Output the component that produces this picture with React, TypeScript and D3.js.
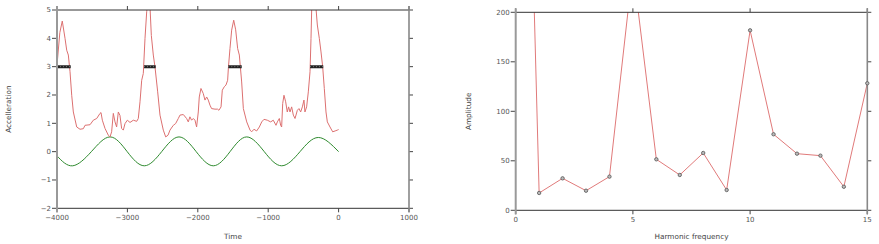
import React from "react";
import * as d3 from "d3";

// ---- Left chart data (Time vs Accelleration) ----
const accelTime = [
  -4000, -3960, -3925, -3886, -3862, -3839, -3815, -3791, -3768, -3720, -3673, -3626, -3602, -3531, -3484, -3436,
  -3389, -3375, -3356, -3318, -3271, -3247, -3224, -3200, -3176, -3153, -3129, -3106, -3082, -3058, -3034, -3001,
  -2963, -2916, -2868, -2845, -2821, -2797, -2774, -2750, -2726, -2690, -2660, -2632, -2608, -2570, -2537, -2490,
  -2456, -2423, -2395, -2348, -2315, -2277, -2253, -2206, -2159, -2135, -2112, -2088, -2064, -2040, -2017, -1993,
  -1979, -1955, -1922, -1898, -1874, -1851, -1827, -1804, -1756, -1719, -1700, -1670, -1652, -1624, -1600, -1576,
  -1566, -1543, -1519, -1490, -1462, -1434, -1410, -1377, -1353, -1305, -1258, -1235, -1202, -1164, -1126, -1092,
  -1060, -1013, -965, -928, -889, -870, -842, -823, -809, -794, -776, -752, -729, -710, -690, -667,
  -643, -619, -586, -563, -539, -515, -492, -478, -454, -430, -406, -392, -382, -350, -321, -302,
  -274, -250, -226, -203, -179, -160, -122, -84, -50, -18, 0,
];
const accelValue = [
  3.05, 4.2, 4.61, 4.0, 3.58, 3.41, 2.82, 1.99, 1.4, 0.87, 0.79, 0.81, 0.93, 0.95, 1.11, 1.17,
  1.35, 1.38, 1.11, 0.82, 0.58, 0.52, 0.7, 1.35, 1.05, 0.87, 1.4, 1.28, 0.82, 0.76, 0.99, 1.11,
  1.03, 1.11, 1.07, 1.17, 1.76, 2.52, 2.76, 4.0, 4.94, 5.7, 4.1, 3.41, 2.99, 2.11, 1.29, 0.76,
  0.52, 0.58, 0.76, 0.93, 0.99, 1.17, 1.29, 1.31, 1.17, 1.05, 1.23, 1.11, 1.17, 1.11, 0.87, 1.4,
  1.93, 2.23, 2.05, 1.82, 1.93, 1.82, 1.64, 1.52, 1.5, 1.5, 1.46, 1.58, 2.17, 2.29, 2.35, 2.52,
  2.94, 3.64, 4.29, 4.64, 4.3, 3.64, 3.41, 2.46, 1.52, 1.05, 0.76, 0.7, 0.79, 0.73, 0.87, 1.05,
  1.14, 1.11, 1.05, 1.11, 0.93, 1.05, 1.17, 0.93, 0.87, 1.7, 1.99, 1.76, 1.4, 1.58, 1.4, 1.58,
  1.29, 1.17, 1.46, 1.52, 1.4, 1.58, 1.82, 1.4, 1.58, 2.11, 2.82, 4.0, 5.06, 5.9, 5.06, 4.47,
  4.0, 3.52, 2.99, 2.23, 1.4, 1.05, 0.87, 0.7, 0.73, 0.76, 0.78,
];

const sineTime = [
  -4000, -3777, -3512, -3247, -3003, -2760, -2513, -2267, -2023, -1780, -1542, -1305, -1056, -808, -548, -288, 0,
];
const sineValue = [
  -0.15, -0.5, 0, 0.52, 0, -0.5, 0, 0.52, 0, -0.5, 0, 0.52, 0, -0.5, 0, 0.5, 0,
];

const spanStart = [-4000, -2764, -1567, -406];
const spanEnd = [-3805, -2598, -1376, -218];
const spanLevel = 3;

const leftXTicks = [-4000, -3000, -2000, -1000, 0, 1000];
const leftYTicks = [-2, -1, 0, 1, 2, 3, 4, 5];

// ---- Right chart data (Harmonic frequency vs Amplitude) ----
const harmonic = [0, 1, 2, 3, 4, 5, 6, 7, 8, 9, 10, 11, 12, 13, 14, 15];
const amplitude = [905, 17.5, 32.3, 19.8, 34, 245, 51.5, 35.7, 57.9, 20.5, 181.8, 76.8, 57.2, 55.2, 23.8, 128.3];
const rightXTicks = [0, 5, 10, 15];
const rightYTicks = [0, 50, 100, 150, 200];

const FONT = "'DejaVu Sans', Verdana, sans-serif";
const TICK_COLOR = "#555";
const fmt = (v: number) => (v < 0 ? "\u2212" : "") + Math.abs(v);

type FrameProps = {
  x: d3.ScaleLinear<number, number>;
  y: d3.ScaleLinear<number, number>;
  xTicks: number[];
  yTicks: number[];
  xTitle: string;
  yTitle: string;
  yTitleX: number;
};

function Frame({ x, y, xTicks, yTicks, xTitle, yTitle, yTitleX }: FrameProps) {
  const [x0, x1] = x.range();
  const [y0, y1] = y.range(); // y0 bottom, y1 top
  return (
    <g fontFamily={FONT}>
      <line x1={x0} x2={x1} y1={y1} y2={y1} stroke="#333" strokeWidth={1} />
      <line x1={x0} x2={x1} y1={y0} y2={y0} stroke="#333" strokeWidth={1} />
      {xTicks.map((t) => (
        <g key={"xt" + t}>
          <line x1={x(t)} x2={x(t)} y1={y1 - 4} y2={y1} stroke="#444" />
          <line x1={x(t)} x2={x(t)} y1={y0} y2={y0 + 4} stroke="#444" />
          <text x={x(t)} y={y0 + 12} fontSize={7} fill={TICK_COLOR} textAnchor="middle">
            {fmt(t)}
          </text>
        </g>
      ))}
      {yTicks.map((t) => (
        <g key={"yt" + t}>
          <line x1={x0 - 5} x2={x0} y1={y(t)} y2={y(t)} stroke="#444" />
          <line x1={x1} x2={x1 + 4} y1={y(t)} y2={y(t)} stroke="#444" />
          <text x={x0 - 6} y={y(t)} dy="0.35em" fontSize={7} fill={TICK_COLOR} textAnchor="end">
            {fmt(t)}
          </text>
        </g>
      ))}
      <line x1={x0} x2={x0} y1={y1 - 4} y2={y0 + 4} stroke="#999" strokeWidth={2} />
      <line x1={x1} x2={x1} y1={y1 - 4} y2={y0 + 4} stroke="#888" strokeWidth={1.6} />
      <text x={(x0 + x1) / 2} y={238.5} fontSize={7.3} fill="#444" textAnchor="middle">
        {xTitle}
      </text>
      <text
        transform={`translate(${yTitleX},${(y0 + y1) / 2}) rotate(-90)`}
        fontSize={7.3}
        fill="#444"
        textAnchor="middle"
        dy="0.35em"
      >
        {yTitle}
      </text>
    </g>
  );
}

export default function App() {
  const lx = d3.scaleLinear().domain([-4000, 1000]).range([57, 409]);
  const ly = d3.scaleLinear().domain([-2, 5]).range([208.3, 10]);
  const rx = d3.scaleLinear().domain([0, 15]).range([515.7, 867.3]);
  const ry = d3.scaleLinear().domain([0, 200]).range([210.3, 12.3]);

  const accel = accelTime.map((t, i) => [t, accelValue[i]] as [number, number]);
  const sine = sineTime.map((t, i) => [t, sineValue[i]] as [number, number]);
  const harm = harmonic.map((h, i) => [h, amplitude[i]] as [number, number]);

  const leftLine = d3.line<[number, number]>().x((d) => lx(d[0])).y((d) => ly(d[1]));
  const sineLine = d3
    .line<[number, number]>()
    .x((d) => lx(d[0]))
    .y((d) => ly(d[1]))
    .curve(d3.curveNatural);
  const rightLine = d3.line<[number, number]>().x((d) => rx(d[0])).y((d) => ry(d[1]));

  return (
    <svg
      width={879}
      height={244}
      style={{ position: "absolute", left: 0, top: 0, background: "#fff" }}
    >
      <defs>
        <clipPath id="clipL">
          <rect x={57} y={10} width={352} height={198.3} />
        </clipPath>
        <clipPath id="clipR">
          <rect x={515.7} y={12.3} width={351.6} height={198} />
        </clipPath>
      </defs>
      <rect width={879} height={244} fill="#fff" />

      {/* Left chart */}
      <g clipPath="url(#clipL)">
        <path d={sineLine(sine) ?? ""} fill="none" stroke="#2f8a2f" strokeWidth={1} />
        <path d={leftLine(accel) ?? ""} fill="none" stroke="#dc7070" strokeWidth={1} />
        {spanStart.map((s, i) => (
          <g key={"sp" + i}>
            <line
              x1={lx(s)}
              x2={lx(spanEnd[i])}
              y1={ly(spanLevel)}
              y2={ly(spanLevel)}
              stroke="#222"
              strokeWidth={3}
            />
            <line
              x1={lx(s)}
              x2={lx(spanEnd[i])}
              y1={ly(spanLevel)}
              y2={ly(spanLevel)}
              stroke="#777"
              strokeWidth={1}
              strokeDasharray="1,2"
            />
          </g>
        ))}
      </g>
      <Frame
        x={lx}
        y={ly}
        xTicks={leftXTicks}
        yTicks={leftYTicks}
        xTitle="Time"
        yTitle="Accelleration"
        yTitleX={8.5}
      />

      {/* Right chart */}
      <g clipPath="url(#clipR)">
        <path d={rightLine(harm) ?? ""} fill="none" stroke="#e07a7a" strokeWidth={1} />
      </g>
      <Frame
        x={rx}
        y={ry}
        xTicks={rightXTicks}
        yTicks={rightYTicks}
        xTitle="Harmonic frequency"
        yTitle="Amplitude"
        yTitleX={468}
      />
      {harm
        .filter((d) => d[1] <= 200 && d[0] > 0)
        .map((d, i) => (
          <circle
            key={"c" + i}
            cx={rx(d[0])}
            cy={ry(d[1])}
            r={1.7}
            fill="#bbb"
            stroke="#555"
            strokeWidth={0.8}
          />
        ))}
    </svg>
  );
}
